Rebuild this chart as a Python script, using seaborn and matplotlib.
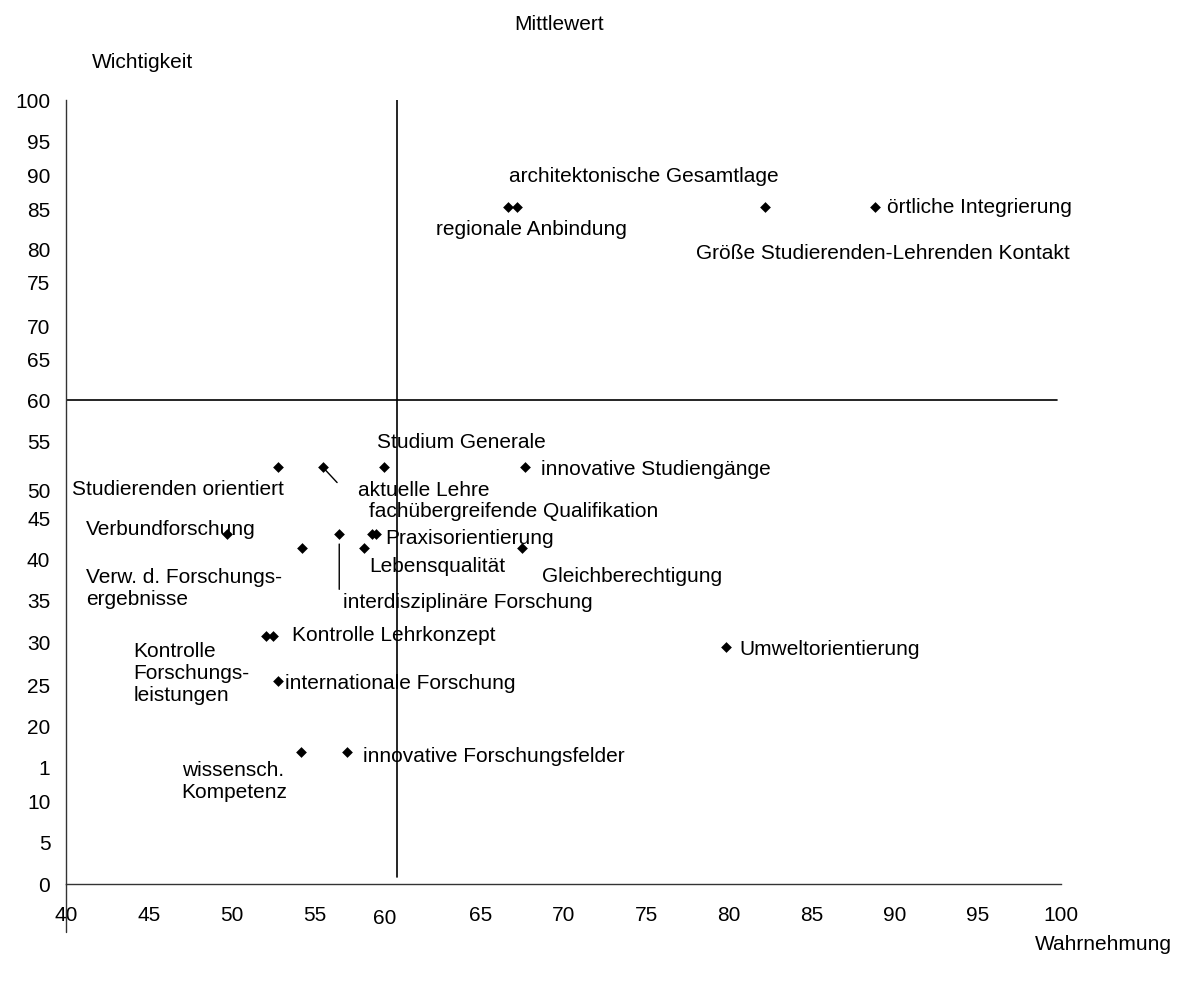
import matplotlib
matplotlib.use("Agg")
import matplotlib.pyplot as plt
import matplotlib.transforms as mtransforms
import seaborn as sns
import pandas as pd

# ---------------- data ----------------
categories = [
    "regionale Anbindung", "architektonische Gesamtlage",
    "Größe Studierenden-Lehrenden Kontakt", "örtliche Integrierung",
    "Studierenden orientiert", "aktuelle Lehre", "Studium Generale",
    "innovative Studiengänge", "Verbundforschung",
    "interdisziplinäre Forschung", "fachübergreifende Qualifikation",
    "Praxisorientierung", "Verw. d. Forschungsergebnisse", "Lebensqualität",
    "Gleichberechtigung", "Kontrolle Forschungsleistungen",
    "Kontrolle Lehrkonzept", "internationale Forschung",
    "wissensch. Kompetenz", "innovative Forschungsfelder",
    "Umweltorientierung",
]
wahrnehmung = [66.66, 67.21, 82.15, 88.78,
               52.78, 55.49, 59.20, 67.69, 49.70,
               56.49, 58.44, 58.68, 54.26, 58.00,
               67.49, 52.05, 52.51, 52.78,
               54.18, 56.95, 79.80]
wichtigkeit = [86.35, 86.35, 86.35, 86.35,
               53.19, 53.19, 53.19, 53.19, 44.60,
               44.60, 44.60, 44.60, 42.89, 42.89,
               42.89, 31.67, 31.67, 25.89,
               16.87, 16.87, 30.23]

x_tick_labels = ["40", "45", "50", "55", "60", "65", "70", "75", "80",
                 "85", "90", "95", "100"]
y_tick_labels = ["0", "5", "10", "1", "20", "25", "30", "35", "40", "45",
                 "50", "55", "60", "65", "70", "75", "80", "85", "90",
                 "95", "100"]
mittelwert_x = 60
mittelwert_y_label = "60"

# ---------------- layout (label positions, in axis units) ----------------
y_tick_pos = [0, 5.23, 10.46, 14.92, 20.03, 25.38, 30.74, 36.10, 41.45,
              46.68, 51.91, 56.38, 61.73, 66.96, 71.17, 76.66, 80.87,
              85.97, 90.31, 94.77, 100]
label_layout = {
    "regionale Anbindung": ("regionale Anbindung", 62.32, 83.42),
    "architektonische Gesamtlage": ("architektonische Gesamtlage", 66.72, 90.18),
    "Größe Studierenden-Lehrenden Kontakt": ("Größe Studierenden-Lehrenden Kontakt", 77.99, 80.48),
    "örtliche Integrierung": ("örtliche Integrierung", 89.50, 86.35),
    "Studierenden orientiert": ("Studierenden orientiert", 40.38, 50.26),
    "aktuelle Lehre": ("aktuelle Lehre", 57.64, 50.17),
    "Studium Generale": ("Studium Generale", 58.76, 56.29),
    "innovative Studiengänge": ("innovative Studiengänge", 68.65, 52.93),
    "Verbundforschung": ("Verbundforschung", 41.22, 45.28),
    "interdisziplinäre Forschung": ("interdisziplinäre Forschung", 56.73, 35.88),
    "fachübergreifende Qualifikation": ("fachübergreifende Qualifikation", 58.28, 47.45),
    "Praxisorientierung": ("Praxisorientierung", 59.25, 44.01),
    "Verw. d. Forschungsergebnisse": ("Verw. d. Forschungs-\nergebnisse", 41.22, 37.63),
    "Lebensqualität": ("Lebensqualität", 58.30, 40.56),
    "Gleichberechtigung": ("Gleichberechtigung", 68.69, 39.16),
    "Kontrolle Forschungsleistungen": ("Kontrolle\nForschungs-\nleistungen", 44.07, 26.87),
    "Kontrolle Lehrkonzept": ("Kontrolle Lehrkonzept", 53.62, 31.67),
    "internationale Forschung": ("internationale Forschung", 53.22, 25.60),
    "wissensch. Kompetenz": ("wissensch.\nKompetenz", 46.99, 13.05),
    "innovative Forschungsfelder": ("innovative Forschungsfelder", 57.94, 16.24),
    "Umweltorientierung": ("Umweltorientierung", 80.64, 29.85),
}
# leader lines: (offset x pt, offset y pt, shrink at point pt)
leaders = {
    "aktuelle Lehre": (10.4, -11.2, 0),
    "interdisziplinäre Forschung": (0, -39.6, 7.0),
}

# ---------------- style ----------------
sns.set_style("white")
plt.rcParams["font.family"] = ["Liberation Sans", "DejaVu Sans"]
plt.rcParams["text.color"] = "black"
FS = 15

df = pd.DataFrame({"Kategorie": categories,
                   "Wahrnehmung": wahrnehmung,
                   "Wichtigkeit": wichtigkeit})

W, H = 1183, 981
fig = plt.figure(figsize=(W / 100, H / 100), dpi=100)
ax = fig.add_axes([65.7 / W, 1 - 884 / H, (1061 - 65.7) / W, 784 / H])

sns.scatterplot(data=df, x="Wahrnehmung", y="Wichtigkeit", marker="D",
                color="black", edgecolor="black", linewidth=0, s=30,
                ax=ax, legend=False, zorder=3)

ax.set_xlim(40, 100)
ax.set_ylim(0, 100)
ax.set_xticks([float(t) for t in x_tick_labels])
ax.set_xticklabels(x_tick_labels, fontsize=FS)
ax.set_yticks(y_tick_pos)
ax.set_yticklabels(y_tick_labels, fontsize=FS)
ax.set_xlabel("")
ax.set_ylabel("")

for side in ["top", "right"]:
    ax.spines[side].set_visible(False)
for side in ["left", "bottom"]:
    ax.spines[side].set_color("#333333")
    ax.spines[side].set_linewidth(1.0)

ax.tick_params(axis="x", direction="out", length=3.6, width=1,
               color="#333333", pad=12.0, labelcolor="black")
ax.tick_params(axis="y", direction="out", length=3.6, width=1,
               color="#333333", pad=7.5, labelcolor="black")

# y axis extends below the x axis
ax.axvline(40, ymin=-0.0612, ymax=0, color="#333333", lw=1.0, clip_on=False)

# quadrant lines (Mittelwert)
ax.axvline(mittelwert_x, ymin=0.009, ymax=1, color="black", lw=1.2, zorder=2)
ax.axhline(y_tick_pos[y_tick_labels.index(mittelwert_y_label)],
           xmin=0, xmax=0.996, color="black", lw=1.2, zorder=2)

# odd tick label offsets as in the reference
for lbl in ax.get_xticklabels():
    if lbl.get_text() == "60":
        lbl.set_transform(lbl.get_transform() + mtransforms.ScaledTranslation(
            -13 / 100, -3 / 100, fig.dpi_scale_trans))
for lbl in ax.get_yticklabels():
    if lbl.get_text() == "50":
        lbl.set_transform(lbl.get_transform() + mtransforms.ScaledTranslation(
            0, -13 / 100, fig.dpi_scale_trans))

# point labels
for name, xv, yv in zip(categories, wahrnehmung, wichtigkeit):
    txt, tx, ty = label_layout[name]
    ax.text(tx, ty, txt, fontsize=FS, ha="left", va="center",
            color="black", zorder=4)
    if name in leaders:
        dx, dy, shr = leaders[name]
        ax.annotate("", xy=(xv, yv), xytext=(dx, dy),
                    textcoords="offset points",
                    arrowprops=dict(arrowstyle="-", color="black", lw=1.0,
                                    shrinkA=0, shrinkB=shr))

# titles
fig.text(559 / W, 1 - 24 / H, "Mittlewert", fontsize=FS, ha="center",
         va="center", color="black")
fig.text(92 / W, 1 - 62 / H, "Wichtigkeit", fontsize=FS, ha="left",
         va="center", color="black")
fig.text(1035 / W, 1 - 944 / H, "Wahrnehmung", fontsize=FS, ha="left",
         va="center", color="black")

fig.savefig("out.png", dpi=100)
